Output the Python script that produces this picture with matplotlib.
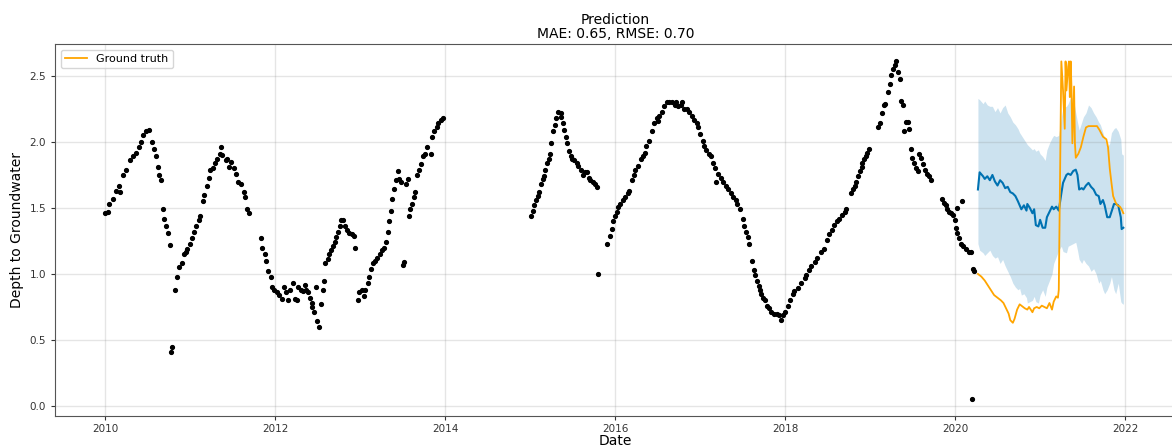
import matplotlib
matplotlib.use("Agg")
import matplotlib.pyplot as plt
import matplotlib.dates as mdates
import pandas as pd
import numpy as np

# ---------------- data (decimal years) ----------------
hist_year = [
    2010.00, 2010.03, 2010.05, 2010.09, 2010.13, 2010.16, 2010.17, 2010.21, 2010.25, 2010.29,
    2010.33, 2010.36, 2010.40, 2010.42, 2010.45, 2010.48, 2010.52, 2010.55, 2010.57, 2010.60,
    2010.62, 2010.64, 2010.66, 2010.68, 2010.69, 2010.72, 2010.74, 2010.76, 2010.78, 2010.79,
    2010.82, 2010.85, 2010.87, 2010.90, 2010.93, 2010.95, 2010.97, 2011.00, 2011.02, 2011.05,
    2011.07, 2011.10, 2011.12, 2011.15, 2011.17, 2011.20, 2011.22, 2011.24, 2011.27, 2011.29,
    2011.32, 2011.35, 2011.36, 2011.38, 2011.42, 2011.44, 2011.46, 2011.48, 2011.52, 2011.54,
    2011.57, 2011.60, 2011.63, 2011.65, 2011.67, 2011.69, 2011.83, 2011.85, 2011.88, 2011.90,
    2011.92, 2011.95, 2011.97,
    2011.99, 2012.02, 2012.05, 2012.08, 2012.10, 2012.13, 2012.15, 2012.18, 2012.21, 2012.24,
    2012.26, 2012.27, 2012.30, 2012.33, 2012.35, 2012.37, 2012.39, 2012.41, 2012.43, 2012.44,
    2012.46, 2012.48, 2012.49, 2012.52, 2012.54, 2012.56, 2012.57, 2012.59, 2012.62, 2012.64,
    2012.66, 2012.68, 2012.70, 2012.72, 2012.74, 2012.76, 2012.78, 2012.80, 2012.82, 2012.84,
    2012.87, 2012.90, 2012.93, 2012.94, 2012.97, 2012.99, 2013.02, 2013.04, 2013.06, 2013.09,
    2013.11, 2013.13, 2013.15, 2013.17, 2013.20, 2013.23, 2013.26, 2013.28, 2013.31, 2013.33,
    2013.34, 2013.36, 2013.38, 2013.40, 2013.42, 2013.44, 2013.46, 2013.48, 2013.50, 2013.52,
    2013.54, 2013.56, 2013.57, 2013.59, 2013.61, 2013.63, 2013.65, 2013.67, 2013.69, 2013.72,
    2013.74, 2013.76, 2013.79, 2013.83, 2013.85, 2013.87, 2013.90, 2013.92, 2013.95, 2013.98,
    2015.01, 2015.03, 2015.05, 2015.07, 2015.09, 2015.11, 2015.13, 2015.15, 2015.16, 2015.18,
    2015.20, 2015.22, 2015.24, 2015.25, 2015.27, 2015.29, 2015.31, 2015.33, 2015.36, 2015.37,
    2015.39, 2015.40, 2015.42, 2015.44, 2015.46, 2015.48, 2015.50, 2015.52, 2015.55, 2015.57,
    2015.60, 2015.62, 2015.65, 2015.67, 2015.69, 2015.71, 2015.74, 2015.76, 2015.79, 2015.80,
    2015.91, 2015.94, 2015.96, 2015.98, 2016.00, 2016.02, 2016.04, 2016.06, 2016.09, 2016.12,
    2016.15, 2016.17, 2016.20, 2016.22, 2016.24, 2016.27, 2016.30, 2016.33, 2016.35, 2016.37,
    2016.40, 2016.43, 2016.46, 2016.49,
    2016.50, 2016.52, 2016.55, 2016.58, 2016.61, 2016.64, 2016.67, 2016.70, 2016.72, 2016.74,
    2016.77, 2016.79, 2016.81, 2016.84, 2016.87, 2016.90, 2016.93, 2016.96, 2016.98, 2017.00,
    2017.03, 2017.05, 2017.07, 2017.10, 2017.13, 2017.15, 2017.17, 2017.19, 2017.21, 2017.24,
    2017.27, 2017.30, 2017.33, 2017.36, 2017.39, 2017.42, 2017.44, 2017.47, 2017.50, 2017.52,
    2017.54, 2017.56, 2017.58, 2017.61, 2017.63, 2017.65, 2017.67, 2017.69, 2017.70, 2017.72,
    2017.74, 2017.76, 2017.79, 2017.81, 2017.84, 2017.87, 2017.90, 2017.93, 2017.95, 2017.98,
    2018.00, 2018.03, 2018.06, 2018.09,
    2018.11, 2018.15, 2018.19, 2018.23, 2018.25, 2018.28, 2018.31, 2018.35, 2018.38, 2018.42,
    2018.46, 2018.49, 2018.52, 2018.55, 2018.58, 2018.61, 2018.64, 2018.67, 2018.70, 2018.72,
    2018.78, 2018.80, 2018.82, 2018.84, 2018.86, 2018.88, 2018.90, 2018.91, 2018.93, 2018.95,
    2018.97, 2018.99, 2019.10, 2019.12, 2019.14, 2019.16, 2019.18, 2019.21, 2019.23, 2019.25,
    2019.27, 2019.29, 2019.31, 2019.33, 2019.35, 2019.37, 2019.39, 2019.40, 2019.42, 2019.45,
    2019.46, 2019.48, 2019.50, 2019.52, 2019.54, 2019.56, 2019.58, 2019.60, 2019.62, 2019.65,
    2019.67, 2019.69, 2019.72, 2019.85, 2019.87, 2019.89, 2019.91, 2019.93, 2019.95, 2019.98,
    2020.00, 2020.01, 2020.02, 2020.03, 2020.05, 2020.07, 2020.08, 2020.10, 2020.13, 2020.17,
    2020.19, 2020.20, 2020.21, 2020.22,
]
hist_val = [
    1.46, 1.47, 1.53, 1.57, 1.63, 1.67, 1.62, 1.75, 1.79, 1.86,
    1.89, 1.92, 1.96, 2.00, 2.05, 2.08, 2.09, 2.00, 1.95, 1.89,
    1.81, 1.75, 1.71, 1.49, 1.42, 1.36, 1.31, 1.22, 0.41, 0.45,
    0.88, 0.98, 1.05, 1.08, 1.15, 1.17, 1.19, 1.23, 1.27, 1.32,
    1.36, 1.41, 1.44, 1.55, 1.60, 1.67, 1.73, 1.79, 1.80, 1.84,
    1.87, 1.91, 1.96, 1.90, 1.86, 1.87, 1.81, 1.85, 1.80, 1.76,
    1.70, 1.68, 1.62, 1.58, 1.49, 1.46, 1.27, 1.20, 1.15, 1.10,
    1.02, 0.98, 0.90,
    0.88, 0.86, 0.84, 0.81, 0.90, 0.86, 0.80, 0.88, 0.93, 0.81,
    0.80, 0.90, 0.88, 0.87, 0.92, 0.88, 0.86, 0.82, 0.78, 0.75,
    0.71, 0.90, 0.64, 0.60, 0.77, 0.88, 0.95, 1.08, 1.11, 1.15,
    1.18, 1.21, 1.24, 1.28, 1.32, 1.36, 1.41, 1.41, 1.36, 1.33,
    1.31, 1.30, 1.29, 1.20, 0.80, 0.86, 0.88, 0.83, 0.88, 0.93,
    0.98, 1.04, 1.08, 1.10, 1.12, 1.15, 1.18, 1.20, 1.24, 1.32,
    1.40, 1.48, 1.57, 1.64, 1.71, 1.78, 1.72, 1.70, 1.07, 1.09,
    1.68, 1.72, 1.44, 1.49, 1.53, 1.58, 1.62, 1.75, 1.79, 1.83,
    1.89, 1.91, 1.96, 1.91, 2.04, 2.08, 2.11, 2.14, 2.17, 2.18,
    1.44, 1.48, 1.52, 1.56, 1.59, 1.62, 1.68, 1.72, 1.74, 1.79,
    1.84, 1.87, 1.91, 1.99, 2.08, 2.13, 2.18, 2.23, 2.22, 2.19,
    2.14, 2.09, 2.04, 1.99, 1.93, 1.89, 1.87, 1.86, 1.84, 1.82,
    1.79, 1.75, 1.77, 1.77, 1.73, 1.71, 1.70, 1.68, 1.66, 1.00,
    1.23, 1.29, 1.34, 1.40, 1.44, 1.47, 1.51, 1.53, 1.56, 1.58,
    1.61, 1.63, 1.71, 1.75, 1.79, 1.82, 1.87, 1.89, 1.92, 1.97,
    2.01, 2.08, 2.14, 2.18,
    2.16, 2.20, 2.23, 2.27, 2.30, 2.30, 2.30, 2.28, 2.30, 2.27,
    2.28, 2.30, 2.25, 2.25, 2.23, 2.20, 2.17, 2.14, 2.11, 2.06,
    2.01, 1.97, 1.94, 1.91, 1.89, 1.84, 1.80, 1.70, 1.76, 1.73,
    1.70, 1.67, 1.64, 1.61, 1.58, 1.56, 1.53, 1.49, 1.42, 1.36,
    1.32, 1.28, 1.23, 1.10, 1.03, 0.99, 0.95, 0.91, 0.88, 0.85,
    0.82, 0.80, 0.76, 0.74, 0.71, 0.70, 0.70, 0.69, 0.65, 0.69,
    0.71, 0.76, 0.80, 0.85,
    0.87, 0.89, 0.93, 0.97, 0.99, 1.03, 1.06, 1.09, 1.12, 1.17,
    1.19, 1.26, 1.30, 1.33, 1.37, 1.40, 1.42, 1.45, 1.47, 1.49,
    1.61, 1.64, 1.67, 1.70, 1.74, 1.78, 1.81, 1.84, 1.87, 1.89,
    1.92, 1.95, 2.11, 2.14, 2.22, 2.28, 2.29, 2.38, 2.44, 2.51,
    2.55, 2.58, 2.61, 2.53, 2.48, 2.31, 2.28, 2.08, 2.15, 2.15,
    2.10, 1.95, 1.88, 1.84, 1.80, 1.78, 1.91, 1.88, 1.83, 1.79,
    1.76, 1.74, 1.71, 1.57, 1.54, 1.52, 1.49, 1.47, 1.46, 1.45,
    1.41, 1.35, 1.50, 1.31, 1.27, 1.23, 1.55, 1.21, 1.19, 1.17,
    1.17, 0.05, 1.04, 1.02,
]

fc_year = [
    2020.27, 2020.29, 2020.33, 2020.35, 2020.38, 2020.41, 2020.44, 2020.47, 2020.50, 2020.53,
    2020.56, 2020.59, 2020.62, 2020.65, 2020.68, 2020.71, 2020.74, 2020.76, 2020.78, 2020.81,
    2020.84, 2020.85, 2020.88, 2020.91, 2020.93, 2020.95, 2020.98, 2021.00, 2021.03, 2021.06,
    2021.08, 2021.11, 2021.14, 2021.16, 2021.19, 2021.22, 2021.25, 2021.27, 2021.31, 2021.33,
    2021.36, 2021.39, 2021.42, 2021.44, 2021.46, 2021.49, 2021.51, 2021.54, 2021.57, 2021.60,
    2021.63, 2021.66, 2021.69, 2021.71, 2021.74, 2021.76, 2021.79, 2021.82, 2021.84, 2021.87,
    2021.89, 2021.92, 2021.95, 2021.96, 2021.98,
]
yhat = [
    1.64, 1.77, 1.74, 1.72, 1.74, 1.71, 1.75, 1.70, 1.67, 1.71,
    1.69, 1.65, 1.66, 1.62, 1.61, 1.59, 1.55, 1.52, 1.49, 1.52,
    1.48, 1.53, 1.50, 1.46, 1.49, 1.37, 1.36, 1.41, 1.35, 1.35,
    1.43, 1.47, 1.51, 1.49, 1.51, 1.48, 1.61, 1.69, 1.75, 1.76,
    1.75, 1.78, 1.79, 1.75, 1.64, 1.65, 1.64, 1.67, 1.69, 1.66,
    1.64, 1.60, 1.59, 1.53, 1.56, 1.52, 1.43, 1.43, 1.47, 1.53,
    1.53, 1.52, 1.43, 1.34, 1.35,
]
yhat_upper = [
    2.33, 2.32, 2.29, 2.31, 2.28, 2.27, 2.27, 2.23, 2.26, 2.22,
    2.26, 2.28, 2.22, 2.19, 2.15, 2.13, 2.10, 2.07, 2.05, 2.02,
    1.99, 1.98, 1.96, 1.94, 1.95, 1.93, 1.94, 1.91, 1.89, 1.86,
    1.94, 1.99, 2.03, 2.05, 2.04, 2.05, 2.19, 2.26, 2.27, 2.29,
    2.34, 2.33, 2.22, 2.15, 2.09, 2.15, 2.19, 2.22, 2.28, 2.26,
    2.22, 2.19, 2.15, 2.13, 2.07, 2.02, 1.96, 1.99, 2.07, 2.10,
    2.11, 2.08, 2.02, 1.91, 1.90,
]
yhat_lower = [
    1.23, 1.18, 1.16, 1.14, 1.16, 1.18, 1.14, 1.12, 1.13, 1.08,
    1.11, 1.06, 1.02, 0.98, 0.93, 0.90, 0.88, 0.89, 0.84, 0.85,
    0.82, 0.78, 0.79, 0.80, 0.83, 0.79, 0.78, 0.84, 0.88, 0.83,
    0.90, 0.95, 1.00, 1.08, 1.13, 1.18, 1.21, 1.17, 1.16, 1.21,
    1.22, 1.23, 1.24, 1.18, 1.11, 1.08, 1.11, 1.08, 1.06, 1.02,
    1.04, 1.00, 0.93, 0.95, 0.88, 0.85, 0.88, 0.93, 0.98, 0.88,
    0.85, 0.93, 0.79, 0.78, 0.77,
]

gt_year = [
    2020.27, 2020.31, 2020.35, 2020.38, 2020.42, 2020.46, 2020.50, 2020.54, 2020.57, 2020.60,
    2020.63, 2020.65, 2020.68, 2020.70, 2020.73, 2020.76, 2020.78, 2020.82, 2020.85, 2020.87,
    2020.91, 2020.93, 2020.96, 2020.99, 2021.02, 2021.05, 2021.08, 2021.11, 2021.14, 2021.16,
    2021.19, 2021.21, 2021.22, 2021.25, 2021.27, 2021.29, 2021.30, 2021.31, 2021.33, 2021.34,
    2021.35, 2021.36, 2021.37, 2021.38, 2021.40, 2021.41, 2021.42, 2021.45, 2021.48, 2021.51,
    2021.54, 2021.57, 2021.60, 2021.64, 2021.67, 2021.70, 2021.74, 2021.78, 2021.80, 2021.82,
    2021.84, 2021.86, 2021.89, 2021.91, 2021.94, 2021.96, 2021.98,
]
gt_val = [
    1.00, 0.98, 0.95, 0.92, 0.88, 0.84, 0.82, 0.80, 0.78, 0.74,
    0.70, 0.65, 0.63, 0.66, 0.73, 0.77, 0.76, 0.74, 0.73, 0.75,
    0.71, 0.74, 0.75, 0.74, 0.76, 0.75, 0.74, 0.78, 0.73, 0.79,
    0.83, 0.82, 0.88, 2.61, 2.39, 2.10, 2.61, 2.39, 2.57, 2.61,
    2.34, 2.61, 2.39, 1.99, 2.42, 1.99, 1.88, 1.91, 1.96, 2.04,
    2.11, 2.12, 2.12, 2.12, 2.12, 2.09, 2.04, 2.02, 1.96, 1.80,
    1.69, 1.59, 1.54, 1.52, 1.51, 1.49, 1.46,
]

title_text = "Prediction\nMAE: 0.65, RMSE: 0.70"
x_label = "Date"
y_label = "Depth to Groundwater"
legend_label = "Ground truth"


def to_dt(y):
    yr = int(y)
    start = pd.Timestamp(yr, 1, 1)
    end = pd.Timestamp(yr + 1, 1, 1)
    return start + (end - start) * (y - yr)


hist_dt = [to_dt(v) for v in hist_year]
fc_dt = [to_dt(v) for v in fc_year]
gt_dt = [to_dt(v) for v in gt_year]

# ---------------- figure ----------------
fig = plt.figure(figsize=(11.72, 4.46), dpi=100)
ax = fig.add_axes([55 / 1172, 30 / 446, 1121 / 1172, 372 / 446])

ax.plot(hist_dt, hist_val, 'k.', markersize=5.5)
ax.plot(fc_dt, yhat, ls='-', c='#0072B2', lw=1.5)
ax.fill_between(fc_dt, yhat_lower, yhat_upper, color='#0072B2', alpha=0.2, lw=0)
ax.plot(gt_dt, gt_val, color='orange', lw=1.3, label=legend_label)

ax.grid(True, which='major', c='gray', ls='-', lw=1, alpha=0.2)
ax.set_xlim(to_dt(2009.41), to_dt(2022.6))
ax.set_ylim(-0.076, 2.742)
ax.xaxis.set_major_locator(mdates.YearLocator(2))
ax.xaxis.set_major_formatter(mdates.DateFormatter('%Y'))
ax.set_yticks([0.0, 0.5, 1.0, 1.5, 2.0, 2.5])
ax.tick_params(labelsize=7.5, colors='#333333', length=3)
ax.tick_params(axis='x', pad=2.5)
for s in ax.spines.values():
    s.set_color('#555555')

ax.set_xlabel(x_label, fontsize=10, labelpad=0)
ax.set_ylabel(y_label, fontsize=10)
ax.set_title(title_text, fontsize=10, pad=4, linespacing=1.05)
ax.legend(loc='upper left', fontsize=8)

fig.savefig('out.png', dpi=100)
